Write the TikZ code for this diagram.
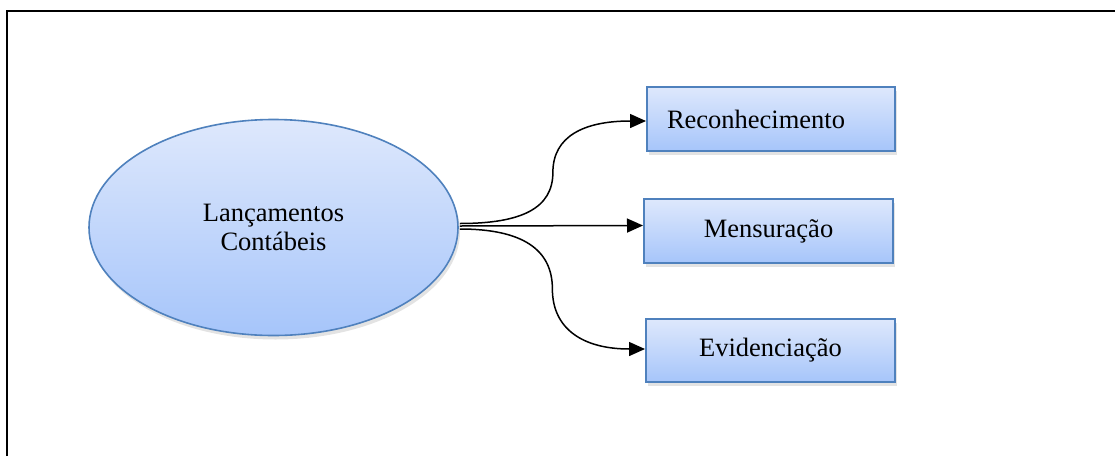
\documentclass[tikz,border=0pt]{standalone}
\usepackage{fontspec}
\setmainfont{Liberation Serif}
\usetikzlibrary{shapes.geometric,arrows.meta,shadows,calc}

\definecolor{edgeblue}{RGB}{79,129,189}
\definecolor{filltop}{RGB}{222,232,252}
\definecolor{fillbot}{RGB}{166,197,250}

\tikzset{
  shade base/.style={top color=filltop, bottom color=fillbot, draw=edgeblue,
    drop shadow={opacity=0.22, shadow xshift=1pt, shadow yshift=-2pt}},
  rootnode/.style={shade base, ellipse, line width=0.8pt,
    minimum width=184.5pt, minimum height=108pt, inner sep=0pt,
    align=center, font=\fontsize{13.25}{14.8}\selectfont},
  itembox/.style={shade base, rectangle, line width=1pt,
    minimum width=124.5pt, minimum height=32pt, inner sep=0pt,
    font=\fontsize{13.25}{15}\selectfont},
  conn/.style={line width=0.75pt, -{Triangle[length=8pt,width=7pt]}},
  frame/.style={line width=1.2pt}
}

\begin{document}
\begin{tikzpicture}[x=0.5pt,y=-0.5pt]
  \useasboundingbox (0,0) rectangle (1115,456);

  % outer frame (open at the right and bottom edges)
  \draw[frame] (7,456) -- (7,11) -- (1115,11);

  % root ellipse
  \node[rootnode] (L) at (273.5,227.5) {Lançamentos\\Contábeis};

  % target boxes
  \node[itembox, text width=104pt, inner xsep=10pt, align=left,
        minimum width=124pt] (R) at (771,119) {Reconhecimento};
  \node[itembox] (M) at (768.5,231) {Mensuração};
  \node[itembox, minimum height=31.5pt] (E) at (770.5,350.5) {Evidenciação};

  % connector end points
  \coordinate (sR) at ($(L.east)+(1,-4)$);
  \coordinate (sM) at ($(L.east)+(1,-1.5)$);
  \coordinate (sE) at ($(L.east)+(1,1.5)$);
  \coordinate (tR) at ($(R.west)+(0,2)$);
  \coordinate (tM) at ($(M.west)+(0,-5.5)$);
  \coordinate (tE) at ($(E.west)+(0,-1.5)$);
  \coordinate (mR) at ($(sR)!0.5!(tR)$);
  \coordinate (mE) at ($(sE)!0.5!(tE)$);

  % connectors
  \draw[conn] (sR) .. controls ($(sR)+(62,0)$) and ($(mR)+(0,36)$) .. (mR)
                   .. controls ($(mR)+(0,-36)$) and ($(tR)+(-62,0)$) .. (tR);
  \draw[conn] (sM) -- (tM);
  \draw[conn] (sE) .. controls ($(sE)+(62,0)$) and ($(mE)+(0,-40)$) .. (mE)
                   .. controls ($(mE)+(0,40)$) and ($(tE)+(-62,0)$) .. (tE);
\end{tikzpicture}
\end{document}
